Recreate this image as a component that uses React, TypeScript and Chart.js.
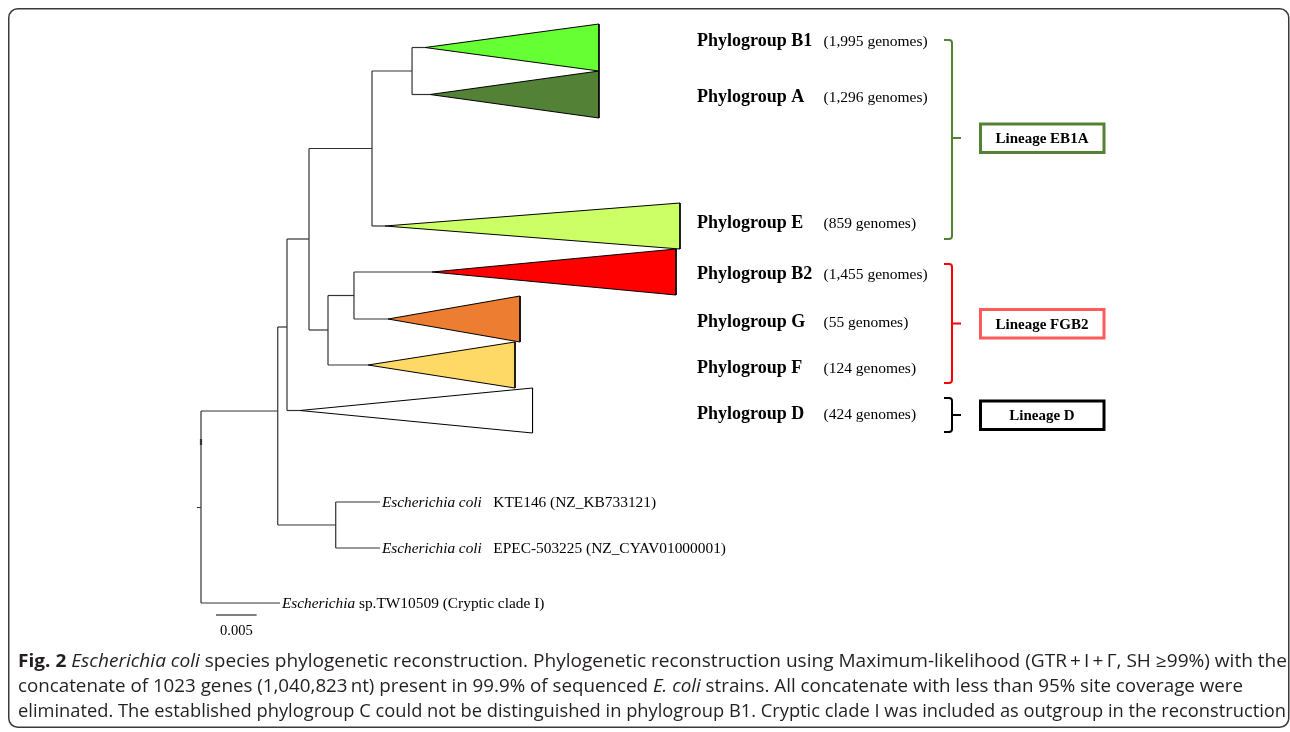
import React, { useEffect, useRef } from "react";
import { Chart, registerables } from "chart.js";
Chart.register(...registerables);

const W = 1290;
const H = 732;

// ---- Tree (x = divergence from root, substitutions/site; y = vertical row position) ----
const nodeIds = ["root", "ecoli", "coliPair", "nodeD", "nodeUpper", "nodeEB1A", "nodeB1A", "nodeFGB2", "nodeB2G",
  "B1", "A", "E", "B2", "G", "F", "D", "KTE146", "EPEC", "TW10509"];
const nodeParents = ["", "root", "ecoli", "ecoli", "nodeD", "nodeUpper", "nodeEB1A", "nodeUpper", "nodeFGB2",
  "nodeB1A", "nodeB1A", "nodeEB1A", "nodeB2G", "nodeB2G", "nodeFGB2", "nodeD", "coliPair", "coliPair", "root"];
const nodeDivergence = [0, 0.00945, 0.01659, 0.01059, 0.0133, 0.02106, 0.02599, 0.01564, 0.01884,
  0.02759, 0.0282, 0.02266, 0.02845, 0.02303, 0.02057, 0.01219, 0.02204, 0.02204, 0.00973];
const nodeRow = [507, 411, 525, 327, 239, 148.5, 71, 330, 295.5,
  47.5, 94.5, 226, 272, 319, 365, 410.5, 502, 548, 603];

// ---- Collapsed phylogroups ----
const cladeIds = ["B1", "A", "E", "B2", "G", "F", "D"];
const cladeNames = ["Phylogroup B1", "Phylogroup A", "Phylogroup E", "Phylogroup B2", "Phylogroup G", "Phylogroup F", "Phylogroup D"];
const cladeGenomes = ["(1,995 genomes)", "(1,296 genomes)", "(859 genomes)", "(1,455 genomes)", "(55 genomes)", "(124 genomes)", "(424 genomes)"];
const cladeColors = ["#66FF33", "#538135", "#CCFF66", "#FF0000", "#ED7D31", "#FFD966", "#FFFFFF"];
const cladeMaxDivergence = [0.04901, 0.04901, 0.05899, 0.0585, 0.03929, 0.03867, 0.04083];
const cladeTopRow = [24, 71, 203, 249, 296, 342, 388];
const cladeBottomRow = [71, 118, 249, 295, 342, 388, 433];
const cladeLabelRow = [41, 97, 223, 274, 322, 368, 414];

// ---- Lineages ----
const lineageNames = ["Lineage EB1A", "Lineage FGB2", "Lineage D"];
const lineageTopRow = [40, 264, 398];
const lineageBottomRow = [239, 383, 432];
const lineageMidRow = [138, 323.5, 415];
const lineageBracketColors = ["#548235", "#FF0000", "#000000"];
const lineageBoxColors = ["#548235", "#FF5B5B", "#000000"];

// ---- Single genomes ----
const leafIds = ["KTE146", "EPEC", "TW10509"];
const leafItalic = ["Escherichia coli", "Escherichia coli", "Escherichia"];
const leafRest = ["KTE146 (NZ_KB733121)", "EPEC-503225 (NZ_CYAV01000001)", "sp.TW10509 (Cryptic clade I)"];
const leafGap = ["   ", "   ", " "];

// ---- Scale bar ----
const scaleBarStart = 0.00185;
const scaleBarLength = 0.005;
const scaleBarRow = 615;
const scaleBarLabel = "0.005";

// ---- Caption ----
type Part = { t: string; b?: boolean; i?: boolean };
const captionLines: Part[][] = [
  [{ t: "Fig. 2", b: true }, { t: " " }, { t: "Escherichia coli", i: true },
   { t: " species phylogenetic reconstruction. Phylogenetic reconstruction using Maximum-likelihood (GTR\u2009+\u2009I\u2009+\u2009\u0393, SH \u226599%) with the" }],
  [{ t: "concatenate of 1023 genes (1,040,823\u2009nt) present in 99.9% of sequenced " }, { t: "E. coli", i: true },
   { t: " strains. All concatenate with less than 95% site coverage were" }],
  [{ t: "eliminated. The established phylogroup C could not be distinguished in phylogroup B1. Cryptic clade I was included as outgroup in the reconstruction" }],
];
const captionWidths = [1269, 1225, 1268];

// layout constants (pixels)
const PX_PER_UNIT = 8120;
const ROOT_PX = 201;

const SERIF = '"Liberation Serif", "Times New Roman", serif';
const SANS = '"Open Sans", "Noto Sans", sans-serif';

function buildDatasets() {
  const ds: any[] = [];
  const idx = (id: string) => nodeIds.indexOf(id);
  const seg = (pts: { x: number; y: number }[], color = "#333333", width = 1.2) =>
    ds.push({ data: pts, borderColor: color, borderWidth: width, pointRadius: 0, fill: false, tension: 0 });

  nodeIds.forEach((id, i) => {
    const p = nodeParents[i];
    if (p) {
      const j = idx(p);
      seg([{ x: nodeDivergence[j], y: nodeRow[i] }, { x: nodeDivergence[i], y: nodeRow[i] }]);
    }
    const kids = nodeIds.map((_, k) => k).filter((k) => nodeParents[k] === id);
    if (kids.length) {
      const ys = kids.map((k) => nodeRow[k]);
      seg([{ x: nodeDivergence[i], y: Math.min(...ys) }, { x: nodeDivergence[i], y: Math.max(...ys) }]);
    }
  });

  // small marks on root branch
  seg([{ x: 0, y: 439 }, { x: 0, y: 445 }], "#333333", 2.2);
  seg([{ x: -0.0005, y: 507.5 }, { x: 0, y: 507.5 }], "#333333", 1);

  cladeIds.forEach((id, c) => {
    const i = idx(id);
    ds.push({
      data: [
        { x: nodeDivergence[i], y: nodeRow[i] },
        { x: cladeMaxDivergence[c], y: cladeTopRow[c] },
        { x: cladeMaxDivergence[c], y: cladeBottomRow[c] },
        { x: nodeDivergence[i], y: nodeRow[i] },
      ],
      borderColor: "#000000",
      borderWidth: 1,
      backgroundColor: cladeColors[c],
      fill: "shape",
      pointRadius: 0,
      tension: 0,
    });
  });

  seg([{ x: scaleBarStart, y: scaleBarRow }, { x: scaleBarStart + scaleBarLength, y: scaleBarRow }], "#000000", 1.2);
  return ds;
}

function drawRich(ctx: CanvasRenderingContext2D, parts: Part[], x: number, y: number, target: number, size: number) {
  const fontOf = (p: Part) => `${p.i ? "italic " : ""}${p.b ? "bold " : ""}${size}px ${SANS}`;
  let total = 0;
  parts.forEach((p) => { ctx.font = fontOf(p); total += ctx.measureText(p.t).width; });
  const s = target / total;
  ctx.save();
  ctx.translate(x, y);
  ctx.scale(s, 1);
  let cx = 0;
  parts.forEach((p) => { ctx.font = fontOf(p); ctx.fillText(p.t, cx, 0); cx += ctx.measureText(p.t).width; });
  ctx.restore();
}

const decorPlugin = {
  id: "decor",
  beforeDraw(chart: any) {
    const ctx = chart.ctx;
    ctx.save();
    ctx.fillStyle = "#ffffff";
    ctx.fillRect(0, 0, chart.width, chart.height);
    ctx.restore();
  },
  afterDraw(chart: any) {
    const ctx: CanvasRenderingContext2D = chart.ctx;
    const xs = chart.scales.x;
    const ys = chart.scales.y;
    ctx.save();
    ctx.textBaseline = "alphabetic";
    ctx.textAlign = "left";
    ctx.fillStyle = "#000";

    // phylogroup labels
    cladeNames.forEach((n, c) => {
      const y = ys.getPixelForValue(cladeLabelRow[c]) + 5;
      ctx.font = `bold 18px ${SERIF}`;
      ctx.fillText(n, 697, y);
      ctx.font = `15.5px ${SERIF}`;
      ctx.fillText(cladeGenomes[c], 823.5, y);
    });

    // lineage brackets and boxes
    lineageNames.forEach((n, l) => {
      const top = ys.getPixelForValue(lineageTopRow[l]);
      const bot = ys.getPixelForValue(lineageBottomRow[l]);
      const mid = ys.getPixelForValue(lineageMidRow[l]);
      const bx = 952;
      ctx.strokeStyle = lineageBracketColors[l];
      ctx.lineWidth = 2;
      ctx.beginPath();
      ctx.moveTo(944, top);
      ctx.lineTo(bx - 3, top);
      ctx.quadraticCurveTo(bx, top, bx, top + 3);
      ctx.lineTo(bx, bot - 3);
      ctx.quadraticCurveTo(bx, bot, bx - 3, bot);
      ctx.lineTo(944, bot);
      ctx.moveTo(bx, mid);
      ctx.lineTo(961, mid);
      ctx.stroke();

      ctx.strokeStyle = lineageBoxColors[l];
      ctx.lineWidth = 3;
      ctx.strokeRect(980.5, mid - 14, 123.5, 28.5);
      ctx.font = `bold 15px ${SERIF}`;
      ctx.textAlign = "center";
      ctx.fillText(n, 1042, mid + 5);
      ctx.textAlign = "left";
    });

    // leaf labels
    leafIds.forEach((id, k) => {
      const i = nodeIds.indexOf(id);
      const x = xs.getPixelForValue(nodeDivergence[i]) + 2;
      const y = ys.getPixelForValue(nodeRow[i]) + 5;
      ctx.font = `italic 15.3px ${SERIF}`;
      ctx.fillText(leafItalic[k], x, y);
      const w = ctx.measureText(leafItalic[k] + leafGap[k]).width;
      ctx.font = `15.4px ${SERIF}`;
      ctx.fillText(leafRest[k], x + w, y);
    });

    // scale bar label
    ctx.font = `14.5px ${SERIF}`;
    ctx.textAlign = "center";
    ctx.fillText(scaleBarLabel, xs.getPixelForValue(scaleBarStart + scaleBarLength / 2), ys.getPixelForValue(scaleBarRow) + 20);
    ctx.textAlign = "left";

    // caption
    ctx.fillStyle = "#231F20";
    captionLines.forEach((parts, li) => drawRich(ctx, parts, 18, 667 + li * 25, captionWidths[li], 17.5));

    // frame
    ctx.strokeStyle = "#3a3a3a";
    ctx.lineWidth = 1.5;
    ctx.beginPath();
    (ctx as any).roundRect(8.75, 8.75, 1280, 718.5, 9);
    ctx.stroke();
    ctx.restore();
  },
};

export default function App() {
  const ref = useRef<HTMLCanvasElement>(null);
  useEffect(() => {
    document.body.style.margin = "0";
    const chart = new Chart(ref.current as HTMLCanvasElement, {
      type: "line",
      data: { datasets: buildDatasets() },
      options: {
        animation: false,
        responsive: false,
        maintainAspectRatio: false,
        devicePixelRatio: 1,
        layout: { padding: 0 },
        events: [],
        plugins: { legend: { display: false }, tooltip: { enabled: false }, title: { display: false } },
        scales: {
          x: { type: "linear", display: false, min: -ROOT_PX / PX_PER_UNIT, max: (W - ROOT_PX) / PX_PER_UNIT },
          y: { type: "linear", display: false, min: 0, max: H, reverse: true },
        },
        elements: { line: { capBezierPoints: false } },
      } as any,
      plugins: [decorPlugin],
    });
    return () => chart.destroy();
  }, []);
  return (
    <div style={{ width: W, height: H, background: "#fff" }}>
      <canvas ref={ref} width={W} height={H} style={{ display: "block", width: W, height: H }} />
    </div>
  );
}
